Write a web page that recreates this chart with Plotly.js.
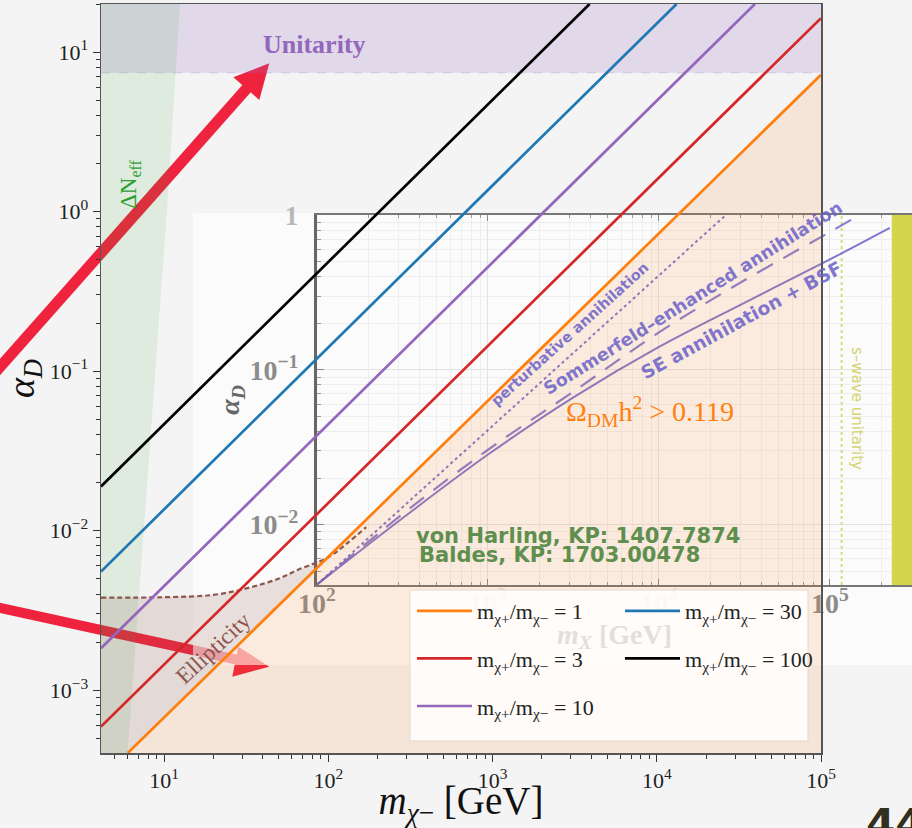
<!DOCTYPE html>
<html><head><meta charset="utf-8">
<script src="https://cdn.plot.ly/plotly-3.0.1.min.js"></script>
<style>html,body{margin:0;padding:0;background:#f4f4f4;}</style>
</head><body>
<div id="chart" style="width:912px;height:828px;"></div>
<script>
// ---------------- data ----------------
// main plot: alpha_D versus m_chi- for mass ratios m_chi+/m_chi-
const ratioLabels = ['1', '3', '10', '30', '100'];
const ratioColors = ['#ff7f0e', '#d62728', '#9467bd', '#1f77b4', '#000000'];
const massR1 = [6.01, 1e5],   alphaR1 = [4.03e-4, 7.2];
const massR3 = [4.13, 1e5],   alphaR3 = [5.9e-4, 16.3];
const massR10 = [4.13, 3.96e4], alphaR10 = [1.83e-3, 20];
const massR30 = [4.13, 1.32e4], alphaR30 = [5.53e-3, 20];
const massR100 = [4.13, 3900], alphaR100 = [0.0189, 20];
// ellipticity bound (dashed)
const ellipMass  = [4.13, 10, 20, 33.5, 50, 66, 100, 130, 170];
const ellipAlpha = [3.80e-3, 3.82e-3, 3.95e-3, 4.4e-3, 5.0e-3, 5.7e-3, 6.8e-3, 8.3e-3, 1.05e-2];
// Delta N_eff boundary
const neffMass  = [6.0, 10.4, 12.5];
const neffAlpha = [4.03e-4, 1, 20];
// unitarity bound
const unitarityAlpha = 7.4;
// inset (relic density curves)
const pertMass = [100, 2.45e4], pertAlpha = [4.1e-3, 1.0];
const seMass  = [100, 316, 1000, 3160, 1e4, 3.16e4, 1e5, 1.41e5];
const seAlpha = [4.1e-3, 0.0117, 0.0305, 0.0725, 0.175, 0.38, 0.78, 0.97];
const bsfMass  = [100, 316, 1000, 3160, 1e4, 3.16e4, 1e5, 2.24e5];
const bsfAlpha = [4.1e-3, 0.011, 0.0284, 0.0665, 0.141, 0.272, 0.519, 0.83];
const swaveMass = 1.17e5;
const yellowBandMass = [2.3e5, 4e5];
// tick labels
const mainXTicks = [10, 100, 1e3, 1e4, 1e5];
const mainXText = ['10<sup>1</sup>', '10<sup>2</sup>', '10<sup>3</sup>', '10<sup>4</sup>', '10<sup>5</sup>'];
const mainYTicks = [1e-3, 1e-2, 1e-1, 1, 10];
const mainYText = ['10<sup>−3</sup>', '10<sup>−2</sup>', '10<sup>−1</sup>', '10<sup>0</sup>', '10<sup>1</sup>'];
const insetXTicks = [100, 1e3, 1e4, 1e5];
const FAINT = 'rgba(150,150,150,0.28)';
const insetXText = ['<b>10<sup>2</sup></b>', '<b><span style="color:' + FAINT + '">10<sup>3</sup></span></b>',
  '<b><span style="color:' + FAINT + '">10<sup>4</sup></span></b>', '<b>10<sup>5</sup></b>'];
const insetYTicks = [1e-2, 1e-1, 1];
const insetYText = ['<b>10<sup>−2</sup></b>', '<b>10<sup>−1</sup></b>', '<b><span style="color:rgba(140,140,140,0.6)">1</span></b>'];

// ---------------- layout helpers ----------------
const W = 912, H = 828;
const px = x => x / W, py = y => 1 - y / H;
const mMin = 4.13, mMax = 1e5, aMin = 4.03e-4, aMax = 20;
const iAMin = Math.pow(10, -2.39), iAMax = Math.pow(10, 0.002);
function minors(lo, hi) {
  const out = [];
  for (let e = lo; e <= hi; e++) for (let k = 2; k <= 9; k++) out.push(k * Math.pow(10, e));
  return out;
}
const SERIF = 'Liberation Serif, DejaVu Serif, serif';
const SANS = 'DejaVu Sans, Liberation Sans, Arial, sans-serif';
const frac = r => 'm<sub>χ+</sub>/m<sub>χ−</sub> = ' + r;

const traces = [];
// ----- inset subplot (x, y) -----
traces.push({x: [yellowBandMass[0], yellowBandMass[1], yellowBandMass[1], yellowBandMass[0]],
  y: [iAMin, iAMin, iAMax, iAMax], xaxis: 'x', yaxis: 'y', mode: 'lines', fill: 'toself',
  fillcolor: '#d5d54c', line: {width: 0}, showlegend: false, hoverinfo: 'skip'});
traces.push({x: [swaveMass, swaveMass], y: [iAMin, iAMax], xaxis: 'x', yaxis: 'y', mode: 'lines',
  line: {color: '#d9dc7a', width: 2, dash: 'dot'}, showlegend: false, hoverinfo: 'skip'});
traces.push({x: pertMass, y: pertAlpha, xaxis: 'x', yaxis: 'y', mode: 'lines',
  line: {color: 'rgba(106,96,200,0.85)', width: 2, dash: 'dot'}, showlegend: false, hoverinfo: 'skip'});
traces.push({x: seMass, y: seAlpha, xaxis: 'x', yaxis: 'y', mode: 'lines', line: {shape: 'spline',
  color: 'rgba(106,96,200,0.8)', width: 2.2, dash: '18px,12px'}, showlegend: false, hoverinfo: 'skip'});
traces.push({x: bsfMass, y: bsfAlpha, xaxis: 'x', yaxis: 'y', mode: 'lines', line: {shape: 'spline',
  color: 'rgba(106,96,200,0.85)', width: 2}, showlegend: false, hoverinfo: 'skip'});

// ----- main subplot (x2, y2) -----
traces.push({x: [mMin, mMax, mMax, mMin], y: [unitarityAlpha, unitarityAlpha, aMax, aMax],
  xaxis: 'x2', yaxis: 'y2', mode: 'lines', fill: 'toself', fillcolor: 'rgba(148,103,189,0.2)',
  line: {width: 0}, showlegend: false, hoverinfo: 'skip'});
traces.push({x: [mMin, mMax], y: [unitarityAlpha, unitarityAlpha], xaxis: 'x2', yaxis: 'y2', mode: 'lines',
  line: {color: 'rgba(148,103,189,0.25)', width: 1, dash: 'dash'}, showlegend: false, hoverinfo: 'skip'});
traces.push({x: [mMin].concat(neffMass, [mMin]), y: [neffAlpha[0]].concat(neffAlpha, [neffAlpha[neffAlpha.length - 1]]),
  xaxis: 'x2', yaxis: 'y2', mode: 'lines', fill: 'toself', fillcolor: 'rgba(44,160,44,0.11)',
  line: {width: 0}, showlegend: false, hoverinfo: 'skip'});
traces.push({x: massR1.concat([massR1[1]]), y: alphaR1.concat([alphaR1[0]]),
  xaxis: 'x2', yaxis: 'y2', mode: 'lines', fill: 'toself', fillcolor: 'rgba(255,127,14,0.12)',
  line: {width: 0}, showlegend: false, hoverinfo: 'skip'});
const ePolyX = [], ePolyY = [];
ellipMass.forEach((m, i) => { if (m <= 100) { ePolyX.push(m); ePolyY.push(ellipAlpha[i]); } });
ePolyX.push(massR1[0], mMin); ePolyY.push(alphaR1[0], alphaR1[0]);
traces.push({x: ePolyX, y: ePolyY, xaxis: 'x2', yaxis: 'y2', mode: 'lines', fill: 'toself',
  fillcolor: 'rgba(140,86,75,0.17)', line: {width: 0}, showlegend: false, hoverinfo: 'skip'});
traces.push({x: ellipMass, y: ellipAlpha, xaxis: 'x2', yaxis: 'y2', mode: 'lines', line: {shape: 'spline',
  color: '#8c564b', width: 2.2, dash: '5px,3px'}, showlegend: false, hoverinfo: 'skip'});

const lineMass = [massR1, massR3, massR10, massR30, massR100];
const lineAlpha = [alphaR1, alphaR3, alphaR10, alphaR30, alphaR100];
const legendOf = ['legend', 'legend', 'legend', 'legend2', 'legend2'];
ratioLabels.forEach((r, i) => {
  traces.push({x: lineMass[i], y: lineAlpha[i], xaxis: 'x2', yaxis: 'y2', mode: 'lines',
    name: frac(r), legend: legendOf[i], legendgroup: 'g' + i,
    line: {color: ratioColors[i], width: 2.7}, hoverinfo: 'skip'});
});

// ----- shapes: arrows, inset backdrop, legend box -----
const P = (x, y) => px(x).toFixed(5) + ',' + py(y).toFixed(5);
const shapes = [
  {type: 'line', xref: 'paper', yref: 'paper', x0: px(-12), y0: py(380.6), x1: px(248), y1: py(87),
   line: {color: '#f0233f', width: 11}, layer: 'below'},
  {type: 'path', xref: 'paper', yref: 'paper', path: 'M' + P(269.3, 63.3) + ' L' + P(233.3, 77.3) + ' L' + P(259.3, 100) + ' Z',
   fillcolor: '#f0233f', line: {width: 0}, layer: 'below'},
  {type: 'line', xref: 'paper', yref: 'paper', x0: px(-10), y0: py(605.8), x1: px(240), y1: py(660.4),
   line: {color: '#f0233f', width: 10}, layer: 'below'},
  {type: 'path', xref: 'paper', yref: 'paper', path: 'M' + P(269.3, 666.7) + ' L' + P(238.3, 646.7) + ' L' + P(232.3, 676.7) + ' Z',
   fillcolor: '#f0233f', line: {width: 0}, layer: 'below'},
  {type: 'rect', xref: 'paper', yref: 'paper', x0: px(193), x1: px(912), y0: py(213), y1: py(665),
   fillcolor: 'rgba(255,255,255,0.62)', line: {width: 0}, layer: 'below'},
  {type: 'rect', xref: 'paper', yref: 'paper', x0: px(410), x1: px(808), y0: py(590), y1: py(741),
   fillcolor: 'rgba(255,255,255,0.84)', line: {color: '#e2d8cf', width: 1}, layer: 'above'}
];

// ----- annotations -----
const ann = (x, y, text, opts) => Object.assign({xref: 'paper', yref: 'paper', x: px(x), y: py(y), text: text,
  showarrow: false, xanchor: 'center', yanchor: 'middle'}, opts);
const PURPLE = 'rgba(106,96,200,0.85)';
const annotations = [
  ann(314, 44, '<b>Unitarity</b>', {font: {family: SERIF, size: 26, color: '#9467bd'}}),
  ann(130, 184, 'ΔN<sub>eff</sub>', {textangle: -90, font: {family: SERIF, size: 23, color: '#2ca02c'}}),
  ann(213, 648, 'Ellipticity', {textangle: -43, font: {family: SERIF, size: 23, color: '#8c564b'}}),
  ann(650, 411, 'Ω<sub>DM</sub>h<sup>2</sup> > 0.119', {font: {family: SERIF, size: 28, color: '#ff7f0e'}}),
  ann(570, 334, '<b>perturbative annihilation</b>', {textangle: -42, font: {family: SANS, size: 14.5, color: PURPLE}}),
  ann(693, 298, '<b>Sommerfeld–enhanced annihilation</b>', {textangle: -32, font: {family: SANS, size: 17.5, color: PURPLE}}),
  ann(741, 321, '<b>SE annihilation + BSF</b>', {textangle: -28.5, font: {family: SANS, size: 18.5, color: PURPLE}}),
  ann(857, 408, 's–wave unitarity', {textangle: 90, font: {family: SANS, size: 15, color: '#d2d470'}}),
  ann(414, 536, '<b>von Harling, KP: 1407.7874</b>', {xanchor: 'left', font: {family: SANS, size: 21, color: '#5f8f4e'}}),
  ann(417, 555, '<b>Baldes, KP: 1703.00478</b>', {xanchor: 'left', font: {family: SANS, size: 21, color: '#5f8f4e'}}),
  ann(864, 798, '<b>44</b>', {xanchor: 'left', yanchor: 'top', font: {family: SANS, size: 42, color: '#30301c'}})
];

const legendCommon = {xanchor: 'left', yanchor: 'top', orientation: 'v', traceorder: 'grouped',
  tracegroupgap: 16, itemwidth: 55, bgcolor: 'rgba(0,0,0,0)', borderwidth: 0,
  font: {family: SERIF, size: 22, color: '#222'}};

const layout = {
  width: W, height: H, margin: {l: 0, r: 0, t: 0, b: 0},
  paper_bgcolor: '#f4f4f4', plot_bgcolor: 'rgba(0,0,0,0)',
  font: {family: SERIF, color: '#222'},
  showlegend: true,
  xaxis: {type: 'log', domain: [px(317), 1], range: [2, 5.48], anchor: 'y', automargin: false,
    showline: true, linecolor: '#777', linewidth: 2, mirror: 'ticks', ticks: 'inside', ticklen: 6, tickcolor: '#888',
    tickmode: 'array', tickvals: insetXTicks, ticktext: insetXText, ticklabelstandoff: -8,
    tickfont: {family: SERIF, size: 28, color: '#8c8c8c'},
    showgrid: true, gridcolor: '#e3e3e3', zeroline: false,
    minor: {ticks: 'inside', ticklen: 3, tickcolor: '#999', showgrid: true, gridcolor: '#eeeeee', tickmode: 'array', tickvals: minors(2, 5)},
    title: {text: '<b><i>m<sub>X</sub></i> [GeV]</b>', font: {family: SERIF, size: 28, color: FAINT}, standoff: 0}},
  yaxis: {type: 'log', domain: [py(585), py(215)], range: [-2.39, 0.002], anchor: 'x', automargin: false,
    showline: true, linecolor: '#666', linewidth: 3, ticks: 'inside', ticklen: 7, tickcolor: '#888',
    tickmode: 'array', tickvals: insetYTicks, ticktext: insetYText, ticklabelstandoff: 10,
    tickfont: {family: SERIF, size: 28, color: '#8c8c8c'},
    showgrid: true, gridcolor: '#e3e3e3', zeroline: false,
    minor: {ticks: 'inside', ticklen: 4, tickcolor: '#999', showgrid: true, gridcolor: '#eeeeee', tickmode: 'array', tickvals: minors(-3, 0)},
    title: {text: '<b><i>α<sub>D</sub></i></b>', font: {family: SERIF, size: 28, color: '#666'}, standoff: 2}},
  xaxis2: {type: 'log', domain: [px(101), px(821)], range: [Math.log10(mMin), 5], anchor: 'y2', automargin: false,
    showline: true, linecolor: '#555', linewidth: 1.5, mirror: true, ticks: 'outside', ticklen: 7, tickcolor: '#333',
    tickmode: 'array', tickvals: mainXTicks, ticktext: mainXText, tickfont: {family: SERIF, size: 22, color: '#222'},
    showgrid: false, zeroline: false,
    minor: {ticks: 'outside', ticklen: 4, tickcolor: '#333', tickmode: 'array', tickvals: minors(0, 4)},
    title: {text: '<i>m</i><sub><i>χ</i>−</sub> [GeV]', font: {family: SERIF, size: 39, color: '#111'}, standoff: 8}},
  yaxis2: {type: 'log', domain: [py(753), py(4)], range: [Math.log10(aMin), Math.log10(aMax)], anchor: 'x2', automargin: false,
    showline: true, linecolor: '#555', linewidth: 1.5, mirror: true, ticks: 'outside', ticklen: 7, tickcolor: '#333',
    tickmode: 'array', tickvals: mainYTicks, ticktext: mainYText, tickfont: {family: SERIF, size: 22, color: '#222'},
    showgrid: false, zeroline: false,
    minor: {ticks: 'outside', ticklen: 4, tickcolor: '#333', tickmode: 'array', tickvals: minors(-4, 1)},
    title: {text: '<i>α<sub>D</sub></i>', font: {family: SERIF, size: 38, color: '#111'}, standoff: 8}},
  legend: Object.assign({x: px(412), y: py(590)}, legendCommon),
  legend2: Object.assign({x: px(620), y: py(590)}, legendCommon),
  shapes: shapes,
  annotations: annotations
};

Plotly.newPlot('chart', traces, layout, {displayModeBar: false, staticPlot: true});
</script>
</body></html>
